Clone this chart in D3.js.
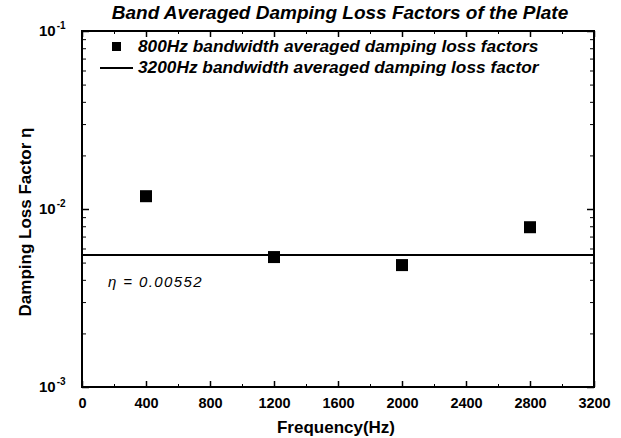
<!DOCTYPE html>
<html>
<head>
<meta charset="utf-8">
<script src="https://d3js.org/d3.v7.min.js"></script>
<style>
  body { margin: 0; background: #fff; }
  text { font-family: "Liberation Sans", Arial, sans-serif; fill: #000; }
</style>
</head>
<body>
<svg id="chart" width="621" height="438"></svg>
<script>
// band averaged loss factors (800 Hz bands)
var freqs = [400, 1200, 2000, 2800];
var lossFactors = [0.0118, 0.00537, 0.00484, 0.0079];
// full band (3200 Hz) average
var overallEta = 0.00552;
var xTicks = [0, 400, 800, 1200, 1600, 2000, 2400, 2800, 3200];
var yDecades = [-3, -2, -1];

var margin = { top: 31, right: 27, bottom: 51, left: 82 };
var width = 621 - margin.left - margin.right;
var height = 438 - margin.top - margin.bottom;

var svg = d3.select("#chart");
var g = svg.append("g")
  .attr("transform", "translate(" + margin.left + "," + margin.top + ")");

var x = d3.scaleLinear().domain([0, 3200]).range([0, width]);
var y = d3.scaleLog().domain([0.001, 0.1]).range([height, 0]);

// minor ticks
var xMinor = d3.range(200, 3200, 400);
var yMinor = [];
[0.001, 0.01].forEach(function (d) {
  for (var k = 2; k <= 9; k++) yMinor.push(d * k);
});

// bottom / top x ticks (inward)
g.append("g")
  .attr("transform", "translate(0," + height + ")")
  .call(d3.axisBottom(x).tickValues(xTicks).tickSize(-6).tickPadding(11).tickFormat(d3.format("d")))
  .call(function (a) {
    a.select(".domain").remove();
    a.selectAll("line").attr("stroke-width", 1.5);
    a.selectAll("text").style("font-size", "14.5px").style("font-weight", "bold");
  });
g.append("g")
  .attr("transform", "translate(0," + height + ")")
  .call(d3.axisBottom(x).tickValues(xMinor).tickSize(-3).tickFormat(""))
  .call(function (a) { a.select(".domain").remove(); });
g.append("g")
  .call(d3.axisTop(x).tickValues(xTicks).tickSize(-6).tickFormat(""))
  .call(function (a) { a.select(".domain").remove(); a.selectAll("line").attr("stroke-width", 1.5); });
g.append("g")
  .call(d3.axisTop(x).tickValues(xMinor).tickSize(-3).tickFormat(""))
  .call(function (a) { a.select(".domain").remove(); });

// left / right y ticks
var yMajor = yDecades.map(function (e) { return Math.pow(10, e); });
g.append("g")
  .call(d3.axisLeft(y).tickValues(yMajor).tickSize(-7).tickFormat(""))
  .call(function (a) { a.select(".domain").remove(); a.selectAll("line").attr("stroke-width", 1.5); });
g.append("g")
  .call(d3.axisLeft(y).tickValues(yMinor).tickSize(-4).tickFormat(""))
  .call(function (a) { a.select(".domain").remove(); });
g.append("g")
  .attr("transform", "translate(" + width + ",0)")
  .call(d3.axisRight(y).tickValues(yMajor).tickSize(-7).tickFormat(""))
  .call(function (a) { a.select(".domain").remove(); a.selectAll("line").attr("stroke-width", 1.5); });
g.append("g")
  .attr("transform", "translate(" + width + ",0)")
  .call(d3.axisRight(y).tickValues(yMinor).tickSize(-4).tickFormat(""))
  .call(function (a) { a.select(".domain").remove(); });

// y tick labels as 10^n
var ylab = g.selectAll(".ylab")
  .data(yDecades)
  .enter()
  .append("text")
  .attr("class", "ylab")
  .attr("x", -43)
  .attr("y", function (d) { return y(Math.pow(10, d)) + 5; })
  .style("font-size", "15px")
  .style("font-weight", "bold");
ylab.append("tspan").text("10");
ylab.append("tspan")
  .attr("dy", -7)
  .attr("dx", 1)
  .style("font-size", "10px")
  .text(function (d) { return d; });

// frame
g.append("rect")
  .attr("width", width)
  .attr("height", height)
  .attr("fill", "none")
  .attr("stroke", "#000")
  .attr("stroke-width", 2);

// overall average line
g.append("line")
  .attr("x1", 0).attr("x2", width)
  .attr("y1", y(overallEta)).attr("y2", y(overallEta))
  .attr("stroke", "#000")
  .attr("stroke-width", 2);

// band points
var sq = 12;
g.selectAll(".pt")
  .data(freqs)
  .enter()
  .append("rect")
  .attr("class", "pt")
  .attr("x", function (d) { return x(d) - sq / 2; })
  .attr("y", function (d, i) { return y(lossFactors[i]) - sq / 2; })
  .attr("width", sq)
  .attr("height", sq)
  .attr("fill", "#000");

// annotation
g.append("text")
  .attr("x", 26)
  .attr("y", 256)
  .style("font-size", "15px")
  .style("font-style", "italic")
  .style("letter-spacing", "1.4px")
  .text("\u03b7 = 0.00552");

// legend
var legend = g.append("g");
legend.append("rect")
  .attr("x", 30).attr("y", 11)
  .attr("width", 9).attr("height", 9)
  .attr("fill", "#000");
legend.append("text")
  .attr("x", 56).attr("y", 21)
  .style("font-size", "17.3px")
  .style("font-weight", "bold")
  .style("font-style", "italic")
  .text("800Hz bandwidth averaged damping loss factors");
legend.append("line")
  .attr("x1", 18).attr("x2", 51)
  .attr("y1", 37).attr("y2", 37)
  .attr("stroke", "#000")
  .attr("stroke-width", 2);
legend.append("text")
  .attr("x", 56).attr("y", 42)
  .style("font-size", "17.3px")
  .style("font-weight", "bold")
  .style("font-style", "italic")
  .text("3200Hz bandwidth averaged damping loss factor");

// titles
svg.append("text")
  .attr("x", 340)
  .attr("y", 19)
  .attr("text-anchor", "middle")
  .style("font-size", "19px")
  .style("font-weight", "bold")
  .style("font-style", "italic")
  .text("Band Averaged Damping Loss Factors of the Plate");

svg.append("text")
  .attr("x", 336)
  .attr("y", 433)
  .attr("text-anchor", "middle")
  .style("font-size", "17px")
  .style("font-weight", "bold")
  .text("Frequency(Hz)");

svg.append("text")
  .attr("transform", "translate(31,222) rotate(-90)")
  .attr("text-anchor", "middle")
  .style("font-size", "17px")
  .style("font-weight", "bold")
  .text("Damping Loss Factor \u03b7");
</script>
</body>
</html>
